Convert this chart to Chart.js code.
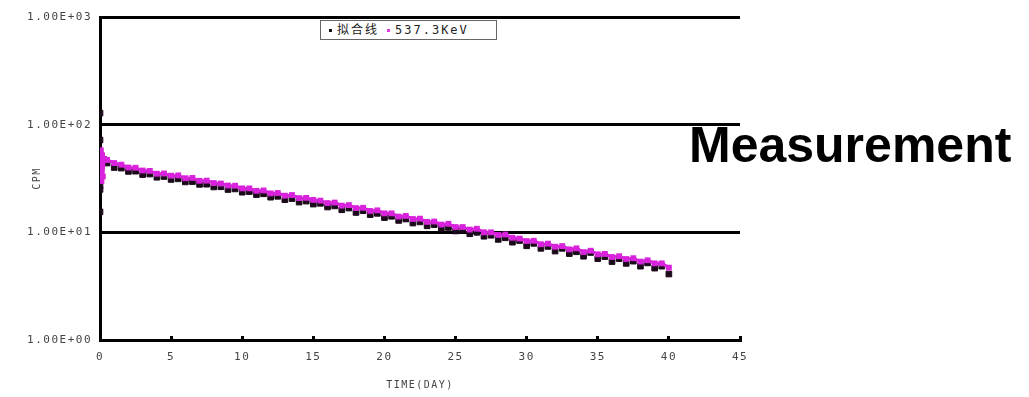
<!DOCTYPE html>
<html>
<head>
<meta charset="utf-8">
<script src="https://cdn.jsdelivr.net/npm/chart.js"></script>
<style>
  body { margin: 0; background: #fff; }
  #wrap { position: relative; width: 1029px; height: 397px; }
  #legend {
    position: absolute; left: 320px; top: 20px; width: 175px; height: 18px;
    border: 1px solid #666; background: #fff;
    font: 12px "DejaVu Sans Mono", "Noto Sans CJK SC", monospace; color: #222;
    letter-spacing: 2px; line-height: 18px; white-space: nowrap;
  }
  #legend .dot { display: inline-block; width: 3px; height: 3px; vertical-align: middle; margin: 0 5px 0 8px; }
  #note {
    position: absolute; left: 689px; top: 120px;
    font: bold 50px "Liberation Sans", Arial, sans-serif; line-height: 50px; color: #000;
  }
</style>
</head>
<body>
<div id="wrap">
  <canvas id="decayChart" width="1029" height="397"></canvas>
  <div id="legend"><span class="dot" style="background:#111"></span>拟合线<span class="dot" style="background:#e03ae0"></span>537.3KeV</div>
  <div id="note">Measurement</div>
</div>
<script>
// tick labels
const yTicks = [1, 10, 100, 1000];
const yTickLabels = ['1.00E+00', '1.00E+01', '1.00E+02', '1.00E+03'];
const xTickLabels = ['0', '5', '10', '15', '20', '25', '30', '35', '40', '45'];

// 拟合线 (black squares)
const fitDays = [0, 0, 0, 0, 0, 0, 0, 0.1, 0.3,
  0.5, 1, 1.5, 2, 2.5, 3, 3.5, 4, 4.5, 5, 5.5, 6, 6.5, 7, 7.5, 8, 8.5, 9, 9.5, 10,
  10.5, 11, 11.5, 12, 12.5, 13, 13.5, 14, 14.5, 15, 15.5, 16, 16.5, 17, 17.5, 18, 18.5, 19, 19.5, 20,
  20.5, 21, 21.5, 22, 22.5, 23, 23.5, 24, 24.5, 25, 25.5, 26, 26.5, 27, 27.5, 28, 28.5, 29, 29.5, 30,
  30.5, 31, 31.5, 32, 32.5, 33, 33.5, 34, 34.5, 35, 35.5, 36, 36.5, 37, 37.5, 38, 38.5, 39, 39.5, 40];
const fitCpm = [128, 72, 56, 32, 27, 25, 15.5, 44, 47,
  44, 40, 39.5, 36.8, 37, 34.4, 34.8, 32.5, 33, 31, 31.4, 29.4, 29.6, 27.9, 28, 26.4, 26.5, 25, 25.3, 23.6,
  23.9, 22.4, 22.8, 21.2, 21.6, 20.1, 20.6, 19.1, 19.5, 18.3, 18.6, 17.2, 17.6, 16.2, 16.8, 15.3, 15.9, 14.6, 15.0, 13.7,
  14.1, 12.9, 13.3, 12.2, 12.5, 11.5, 11.8, 10.9, 11.1, 10.3, 10.5, 9.7, 10.0, 9.2, 9.4, 8.6, 8.9, 8.1, 8.4, 7.5,
  7.9, 7.1, 7.4, 6.7, 7.1, 6.35, 6.6, 6.0, 6.5, 5.7, 5.95, 5.35, 5.7, 5.15, 5.4, 4.85, 5.2, 4.65, 4.85, 4.1];

// 537.3KeV (magenta)
const peakDays = [0, 0.05, 0.1, 0.15, 0.2, 0.3,
  0.5, 1, 1.5, 2, 2.5, 3, 3.5, 4, 4.5, 5, 5.5, 6, 6.5, 7, 7.5, 8, 8.5, 9, 9.5, 10,
  10.5, 11, 11.5, 12, 12.5, 13, 13.5, 14, 14.5, 15, 15.5, 16, 16.5, 17, 17.5, 18, 18.5, 19, 19.5, 20,
  20.5, 21, 21.5, 22, 22.5, 23, 23.5, 24, 24.5, 25, 25.5, 26, 26.5, 27, 27.5, 28, 28.5, 29, 29.5, 30,
  30.5, 31, 31.5, 32, 32.5, 33, 33.5, 34, 34.5, 35, 35.5, 36, 36.5, 37, 37.5, 38, 38.5, 39, 39.5, 40];
const peakCpm = [38, 58, 30, 52, 33, 48,
  47, 44, 42.5, 40, 39.8, 37.5, 37.2, 35, 35.2, 33.6, 33.8, 31.8, 32, 30.1, 30.2, 28.7, 28.4, 27.2, 27.1, 25.6,
  25.6, 24.3, 24.5, 23.0, 23.2, 21.9, 22.2, 20.8, 20.9, 20.0, 19.7, 18.7, 18.9, 17.7, 17.9, 16.8, 16.9, 15.8, 16.0, 15.0,
  15.0, 14.0, 14.2, 13.3, 13.4, 12.5, 12.6, 11.8, 12.0, 11.2, 11.2, 10.6, 10.8, 10.0, 10.0, 9.45, 9.55, 8.9, 8.75, 8.3,
  8.35, 7.75, 7.85, 7.35, 7.45, 6.95, 7.1, 6.55, 6.75, 6.25, 6.3, 5.9, 6.0, 5.65, 5.75, 5.35, 5.5, 5.15, 5.15, 4.7];

const tickFont = { family: '"DejaVu Sans Mono", monospace', size: 11 };

const spacingPlugin = {
  id: 'spacing',
  beforeDraw(chart) { chart.ctx.letterSpacing = '1.5px'; }
};

new Chart(document.getElementById('decayChart'), {
  type: 'scatter',
  data: {
    datasets: [
      {
        label: '拟合线',
        data: fitDays.map((d, i) => ({ x: d, y: fitCpm[i] })),
        backgroundColor: '#1a0a1a',
        borderColor: '#1a0a1a',
        pointStyle: 'rect',
        pointRadius: 4,
        showLine: false,
        order: 1
      },
      {
        label: '537.3KeV',
        data: peakDays.map((d, i) => ({ x: d, y: peakCpm[i] })),
        backgroundColor: '#b828cc',
        borderColor: '#d822dc',
        borderWidth: 3,
        pointStyle: 'rect',
        pointRadius: 2,
        showLine: true,
        order: 0
      }
    ]
  },
  plugins: [spacingPlugin],
  options: {
    responsive: false,
    animation: false,
    layout: { padding: { top: 17, right: 289, left: 0, bottom: 0 } },
    plugins: { legend: { display: false }, tooltip: { enabled: false } },
    scales: {
      x: {
        type: 'linear', min: 0, max: 45,
        afterFit(scale) { scale.height = 57; },
        ticks: {
          stepSize: 5, color: '#444', font: tickFont, padding: 15,
          callback: (v, i) => xTickLabels[i]
        },
        grid: { drawOnChartArea: false, drawTicks: true, tickLength: -4, tickColor: '#000', tickWidth: 3 },
        border: { color: '#000', width: 3 },
        title: {
          display: true, text: 'TIME(DAY)', color: '#444',
          font: { family: '"DejaVu Sans Mono", monospace', size: 10 },
          padding: { top: 0, bottom: 6 }
        }
      },
      y: {
        type: 'logarithmic', min: 1, max: 1000,
        afterFit(scale) { scale.width = 100; },
        afterBuildTicks(scale) { scale.ticks = yTicks.map(v => ({ value: v })); },
        ticks: {
          color: '#444', font: tickFont, padding: 8, autoSkip: false,
          callback: (v, i) => yTickLabels[i]
        },
        grid: { color: '#000', lineWidth: 3, drawTicks: false },
        border: { color: '#000', width: 3 },
        title: {
          display: true, text: 'CPM', color: '#444',
          font: { family: '"DejaVu Sans Mono", monospace', size: 10 },
          padding: { top: 31, bottom: 0 }
        }
      }
    }
  }
});
</script>
</body>
</html>
